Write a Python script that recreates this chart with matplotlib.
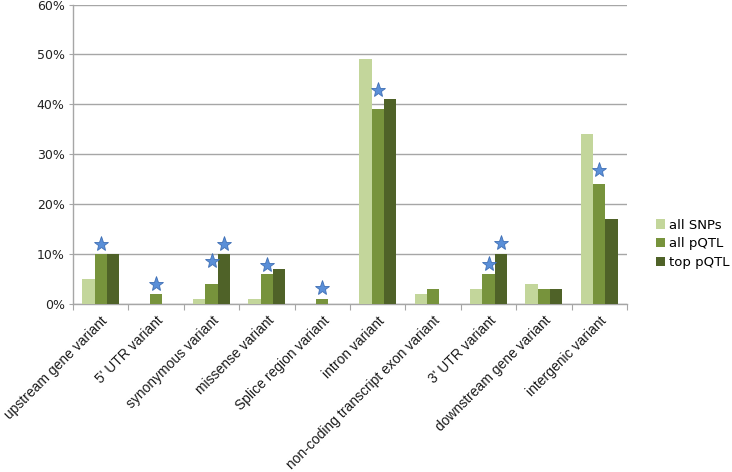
import matplotlib
matplotlib.use("Agg")
import matplotlib.pyplot as plt
import numpy as np
from matplotlib.ticker import FuncFormatter

categories = ["upstream gene variant", "5' UTR variant", "synonymous variant",
              "missense variant", "Splice region variant", "intron variant",
              "non-coding transcript exon variant", "3' UTR variant",
              "downstream gene variant", "intergenic variant"]
series_names = ["all SNPs", "all pQTL", "top pQTL"]
all_snps = [5, 0, 1, 1, 0, 49, 2, 3, 4, 34]
all_pqtl = [10, 2, 4, 6, 1, 39, 3, 6, 3, 24]
top_pqtl = [10, 0, 10, 7, 0, 41, 0, 10, 3, 17]
colors = ["#c3d69b", "#77933c", "#4f6228"]

# stars: (category index, series index, height %)
star_cats = [0, 1, 2, 2, 3, 4, 5, 7, 7, 9]
star_series = [1, 1, 1, 2, 1, 1, 1, 1, 2, 1]
star_values = [12.1, 4.0, 8.6, 12.0, 7.8, 3.3, 42.9, 8.1, 12.3, 26.8]

fig = plt.figure(figsize=(7.32, 4.72), dpi=100)
ax = fig.add_axes([73/732, 1-304/472, (627-73)/732, (304-4.5)/472])

x = np.arange(len(categories))
w = 0.222
data = [all_snps, all_pqtl, top_pqtl]
for i, (vals, c, name) in enumerate(zip(data, colors, series_names)):
    ax.bar(x + (i-1)*w, vals, width=w, color=c, label=name, zorder=3, linewidth=0)

sx = np.array(star_cats) + (np.array(star_series) - 1) * w
ax.plot(sx, star_values, linestyle="none", marker="*", markersize=11,
        markerfacecolor="#5a8fd8", markeredgecolor="#3f6fb5", markeredgewidth=0.6, zorder=4)

ax.set_xlim(-0.5, len(categories) - 0.5)
ax.set_ylim(0, 60)
ax.set_yticks(np.arange(0, 61, 10))
ax.yaxis.set_major_formatter(FuncFormatter(lambda v, p: f"{int(v)}%"))
ax.grid(axis="y", color="#a6a6a6", linewidth=1.0, zorder=0)
for s in ["top", "right"]:
    ax.spines[s].set_visible(False)
for s in ["left", "bottom"]:
    ax.spines[s].set_color("#a6a6a6")
    ax.spines[s].set_linewidth(1.0)
ax.tick_params(axis="y", length=3, color="#a6a6a6", labelsize=9, pad=3, labelcolor="#222222")

# category boundary ticks
ax.set_xticks(np.arange(-0.5, len(categories) + 0.5, 1.0), minor=False)
ax.set_xticklabels([])
ax.tick_params(axis="x", which="major", length=4, color="#a6a6a6")
ax.set_xticks(x, minor=True)
ax.set_xticklabels(categories, minor=True, rotation=45, ha="right", va="top",
                   rotation_mode="anchor", fontsize=10, family="Liberation Sans")
ax.tick_params(axis="x", which="minor", length=0, pad=7, labelcolor="#1a1a1a")

fig.legend(loc="center left", bbox_to_anchor=(656/732, 1-244/472), frameon=False,
           handlelength=0.7, handleheight=0.7, handletextpad=0.3, labelspacing=0.45,
           fontsize=9.5, borderaxespad=0, borderpad=0)

fig.savefig("out.png", dpi=100)
